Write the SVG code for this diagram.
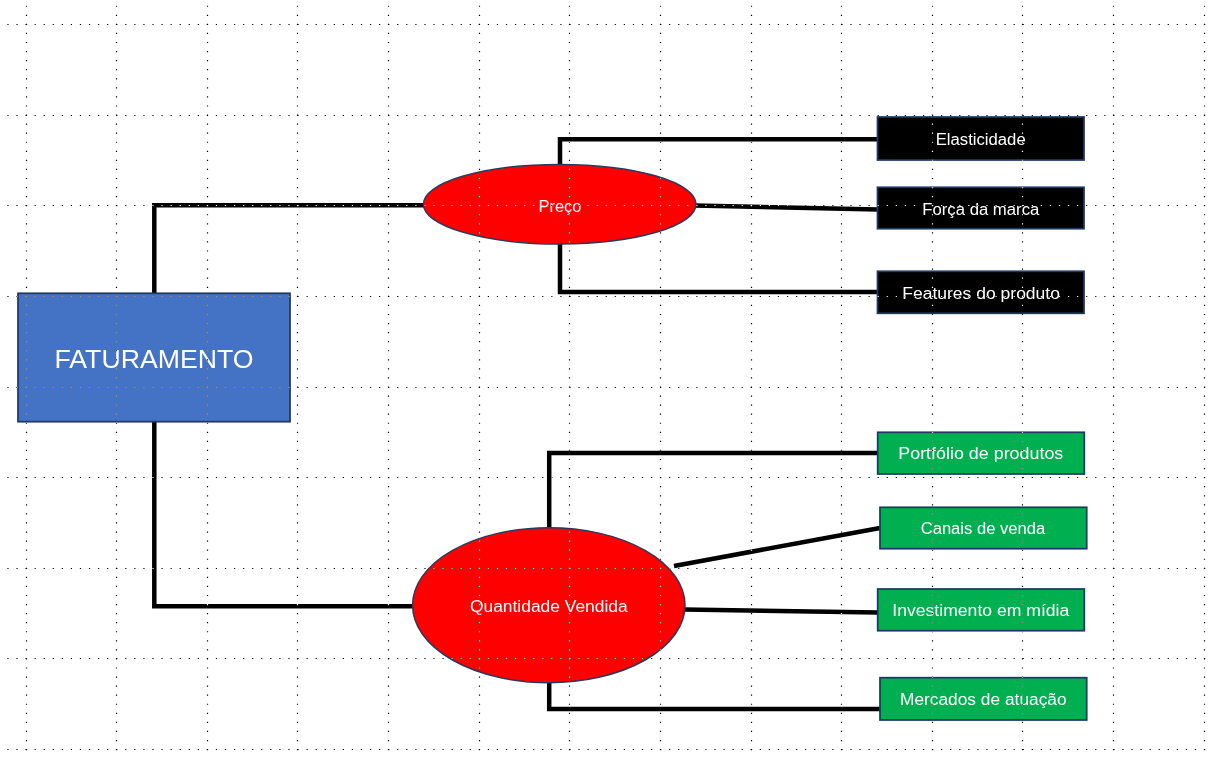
<svg xmlns="http://www.w3.org/2000/svg" width="1216" height="760" viewBox="0 0 1216 760">
  <style>
    .conn { fill: none; stroke: #000; stroke-width: 4.5; stroke-linejoin: miter; stroke-linecap: butt; }
    .box { stroke: #1F3864; stroke-width: 1.75; }
    .ell { fill: #FF0000; stroke: #2B3A5A; stroke-width: 1.5; }
    .lbl { font-family: "Liberation Sans", Arial, sans-serif; font-size: 16px; fill: #fff; text-anchor: middle; }
    .big { font-size: 26px; }
    .grid line { stroke: #fff; stroke-width: 1.2; stroke-dasharray: 1.2 7.865; }
    .grid { mix-blend-mode: difference; }
  </style>
  <rect x="0" y="0" width="1216" height="760" fill="#fff"/>

  <g id="connectors">
    <path class="conn" d="M154.3,293 V205.3 H424"/>
    <path class="conn" d="M154.3,421.7 V606.3 H413.5"/>
    <path class="conn" d="M560,165 V139.2 H878"/>
    <path class="conn" d="M560,243.5 V292 H878"/>
    <path class="conn" d="M694,205.5 L878,209.5"/>
    <path class="conn" d="M549.2,528.5 V453 H878"/>
    <path class="conn" d="M549.2,682 V709 H880"/>
    <path class="conn" d="M674,566 L880,528"/>
    <path class="conn" d="M684,609.5 L878,612.5"/>
  </g>

  <g id="faturamento">
    <rect class="box" x="18" y="293.3" width="272" height="128.4" fill="#4472C4"/>
    <text class="lbl big" x="154" y="368" textLength="199" lengthAdjust="spacingAndGlyphs">FATURAMENTO</text>
  </g>

  <g id="preco">
    <ellipse class="ell" cx="559.7" cy="204.2" rx="136.3" ry="39.8"/>
    <text class="lbl" x="560" y="212.3" textLength="43" lengthAdjust="spacingAndGlyphs">Preço</text>
  </g>

  <g id="quantidade">
    <ellipse class="ell" cx="548.8" cy="605.2" rx="136.2" ry="77.5"/>
    <text class="lbl" x="548.8" y="611.7" textLength="157.7" lengthAdjust="spacingAndGlyphs">Quantidade Vendida</text>
  </g>

  <g id="elasticidade">
    <rect class="box" x="877.5" y="117" width="206.5" height="43" fill="#000"/>
    <text class="lbl" x="980.7" y="145" textLength="90" lengthAdjust="spacingAndGlyphs">Elasticidade</text>
  </g>

  <g id="forca">
    <rect class="box" x="877.5" y="187.3" width="206.5" height="41.4" fill="#000"/>
    <text class="lbl" x="980.8" y="215" textLength="117" lengthAdjust="spacingAndGlyphs">Força da marca</text>
  </g>

  <g id="features">
    <rect class="box" x="877.5" y="271.3" width="206.5" height="42" fill="#000"/>
    <text class="lbl" x="981.1" y="299" textLength="157.7" lengthAdjust="spacingAndGlyphs">Features do produto</text>
  </g>

  <g id="portfolio">
    <rect class="box" x="877.7" y="432.3" width="206.6" height="41.7" fill="#00B050"/>
    <text class="lbl" x="980.8" y="459" textLength="165" lengthAdjust="spacingAndGlyphs">Portfólio de produtos</text>
  </g>

  <g id="canais">
    <rect class="box" x="880" y="507.3" width="206.7" height="41.4" fill="#00B050"/>
    <text class="lbl" x="983" y="534.3" textLength="124.7" lengthAdjust="spacingAndGlyphs">Canais de venda</text>
  </g>

  <g id="investimento">
    <rect class="box" x="877.7" y="589" width="206.6" height="41.7" fill="#00B050"/>
    <text class="lbl" x="980.8" y="616" textLength="177" lengthAdjust="spacingAndGlyphs">Investimento em mídia</text>
  </g>

  <g id="mercados">
    <rect class="box" x="880" y="677.7" width="206.7" height="42.3" fill="#00B050"/>
    <text class="lbl" x="983.3" y="705" textLength="166.7" lengthAdjust="spacingAndGlyphs">Mercados de atuação</text>
  </g>

  <g class="grid">
    <line x1="-1.7" y1="24.5" x2="1212" y2="24.5"/>
    <line x1="-1.7" y1="115.5" x2="1212" y2="115.5"/>
    <line x1="-1.7" y1="205.5" x2="1212" y2="205.5"/>
    <line x1="-1.7" y1="296.5" x2="1212" y2="296.5"/>
    <line x1="-1.7" y1="387.5" x2="1212" y2="387.5"/>
    <line x1="-1.7" y1="477.5" x2="1212" y2="477.5"/>
    <line x1="-1.7" y1="568.5" x2="1212" y2="568.5"/>
    <line x1="-1.7" y1="658.5" x2="1212" y2="658.5"/>
    <line x1="-1.7" y1="749.5" x2="1212" y2="749.5"/>
    <line x1="26.5" y1="-3.4" x2="26.5" y2="752"/>
    <line x1="116.5" y1="-3.4" x2="116.5" y2="752"/>
    <line x1="207.5" y1="-3.4" x2="207.5" y2="752"/>
    <line x1="297.5" y1="-3.4" x2="297.5" y2="752"/>
    <line x1="388.5" y1="-3.4" x2="388.5" y2="752"/>
    <line x1="479.5" y1="-3.4" x2="479.5" y2="752"/>
    <line x1="569.5" y1="-3.4" x2="569.5" y2="752"/>
    <line x1="660.5" y1="-3.4" x2="660.5" y2="752"/>
    <line x1="751.5" y1="-3.4" x2="751.5" y2="752"/>
    <line x1="841.5" y1="-3.4" x2="841.5" y2="752"/>
    <line x1="932.5" y1="-3.4" x2="932.5" y2="752"/>
    <line x1="1022.5" y1="-3.4" x2="1022.5" y2="752"/>
    <line x1="1113.5" y1="-3.4" x2="1113.5" y2="752"/>
    <line x1="1204.5" y1="-3.4" x2="1204.5" y2="752"/>
  </g>
</svg>
